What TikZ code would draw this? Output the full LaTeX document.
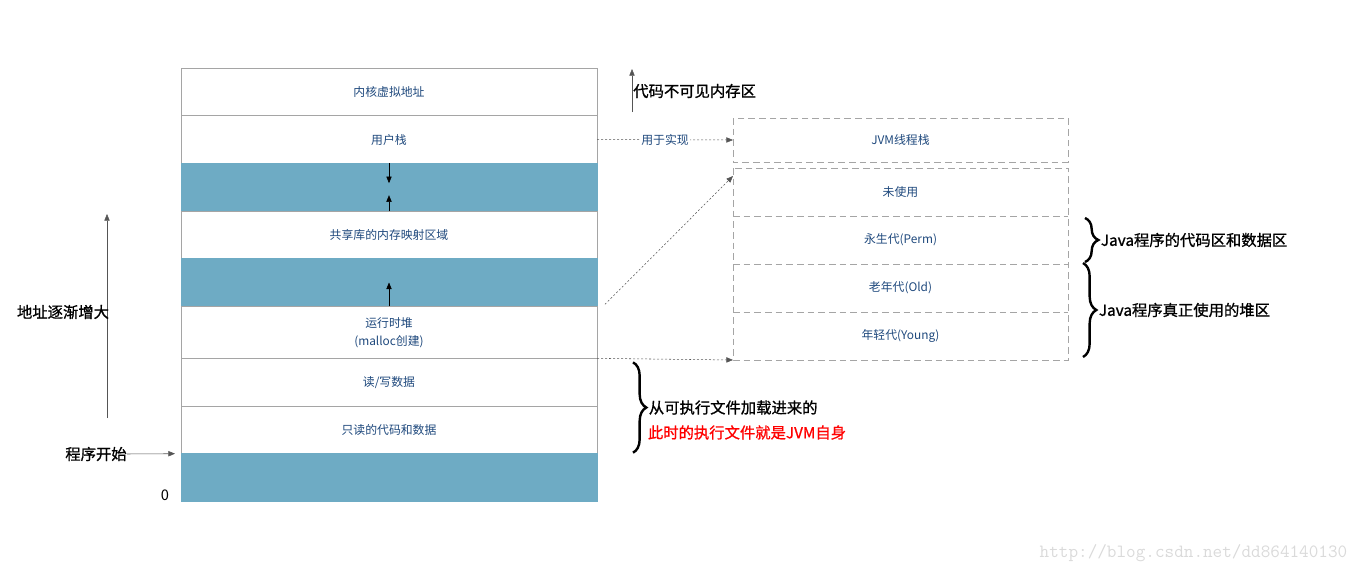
\documentclass[tikz,border=0pt]{standalone}
\usepackage{fontspec}
\setmainfont{Noto Sans CJK SC}
\newfontfamily\notefont{Noto Sans CJK SC}[FakeBold=1]
\usetikzlibrary{arrows.meta, positioning, calc, decorations.pathreplacing}
\definecolor{memTeal}{RGB}{110,171,196}
\definecolor{memBorder}{RGB}{165,165,165}
\definecolor{labelBlue}{RGB}{31,73,125}
\definecolor{linkGray}{RGB}{85,85,85}
\definecolor{markGray}{RGB}{218,218,218}

\begin{document}
\begin{tikzpicture}[
    x=0.75pt, y=-0.75pt,
    every node/.style={font=\fontsize{8.9}{13.5}\selectfont},
    node distance=0pt,
    mem/.style={
        draw=memBorder, fill=white, minimum width=312pt, minimum height=35.75pt,
        inner sep=0pt, outer sep=0pt, align=center, text=labelBlue
    },
    gap/.style={mem, fill=memTeal, draw=memTeal},
    jvm/.style={
        mem, draw=none, fill=none,
        minimum width=251.25pt, minimum height=36pt
    },
    outline/.style={draw=memBorder, dash pattern=on 5pt off 3pt},
    note/.style={font=\notefont\fontsize{11.5}{14}\selectfont, text=black, inner sep=0pt},
    link/.style={-{Triangle[length=5pt,width=4pt]}, linkGray, thin, dash pattern=on 1.5pt off 1.5pt},
    pointer/.style={-{Triangle[length=5pt,width=4pt]}, black, thin},
    curly/.style={decorate, decoration={brace, amplitude=10pt}, line width=1.8pt}
]
    \useasboundingbox (0,0) rectangle (1364,575);

    % process address space
    \node[mem] (kernel) at (389,91.85) {内核虚拟地址};
    \node[mem, below=of kernel] (ustack) {用户栈};
    \node[gap, below=of ustack] (gap1) {};
    \node[mem, below=of gap1] (shlib) {共享库的内存映射区域};
    \node[gap, below=of shlib] (gap2) {};
    \node[mem, below=of gap2, minimum height=39pt] (heap) {运行时堆\\(malloc创建)};
    \node[mem, below=of heap] (rwdata) {读/写数据};
    \node[mem, below=of rwdata] (rodata) {只读的代码和数据};
    \node[gap, below=of rodata] (base) {};

    \draw[pointer] (ustack.south) -- ([yshift=3pt]gap1.center);
    \draw[pointer] (shlib.north) -- ([yshift=-6pt]gap1.center);
    \draw[pointer] (heap.north) -- (gap2.center);

    % jvm memory
    \node[jvm, minimum height=33pt] (jvmstack) at (900.5,140) {JVM线程栈};
    \node[jvm, below=4.5pt of jvmstack] (unused) {未使用};
    \node[jvm, below=of unused] (perm) {永生代(Perm)};
    \node[jvm, below=of perm] (old) {老年代(Old)};
    \node[jvm, below=of old] (young) {年轻代(Young)};

    \draw[outline] (jvmstack.north west) rectangle (jvmstack.south east);
    \draw[outline] (unused.north west) rectangle (young.south east);
    \foreach \part in {perm, old, young}
        \draw[outline] (\part.north west) -- (\part.north east);

    \draw[link] (ustack.east) -- node[fill=white, text=labelBlue, inner sep=1pt] (implnote) {用于实现} (jvmstack.west);
    \draw[link] ($(heap.north east)+(8,-2)$) -- ($(unused.north west)+(0,8)$);
    \draw[link] (heap.south east) -- (young.south west);

    % braces
    \draw[curly] ($(perm.north east)+(17,2)$) -- ($(perm.south east)+(17,-2)$)
        node[note, midway, right=11pt] (permnote) {Java程序的代码区和数据区};
    \draw[curly] ($(old.north east)+(15,-1)$) -- ($(young.south east)+(15,-3)$)
        node[note, midway, right=11pt] (heapnote) {Java程序真正使用的堆区};
    \draw[curly] ($(rwdata.north east)+(36,4)$) -- ($(rodata.south east)+(36,-1)$)
        node[note, midway, right=11pt] (loadnote) {从可执行文件加载进来的};
    \node[note, text=red, anchor=west] (selfnote) at ($(loadnote.west)+(0,25)$) {此时的执行文件就是JVM自身};

    % left side
    \coordinate (addrlow) at (107,418);
    \coordinate (addrhigh) at (107,214);
    \draw[pointer, draw=linkGray] (addrlow) -- (addrhigh);
    \node[note] (addrnote) at (63,312) {地址逐渐增大};
    \node[note] (startnote) at (96,454) {程序开始};
    \draw[pointer, draw=linkGray] (startnote.east) -- ([xshift=-4.5pt]rodata.south west);
    \node[note, font=\fontsize{11}{13}\selectfont] (zero) at (165,495) {0};

    \coordinate (hidelow) at (632,112);
    \coordinate (hidehigh) at (632,69);
    \draw[pointer, draw=linkGray] (hidelow) -- (hidehigh);
    \node[note, anchor=west] (hidenote) at (633,91) {代码不可见内存区};

    \node[font=\ttfamily\fontsize{14}{16}\selectfont, text=markGray, anchor=east] (mark) at (1352,553) {http://blog.csdn.net/dd864140130};
\end{tikzpicture}
\end{document}
